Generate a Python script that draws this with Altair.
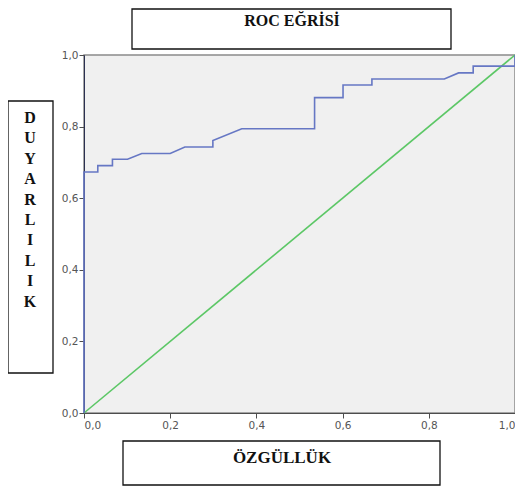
import altair as alt
import pandas as pd

# ROC curve (1 - specificity on x, sensitivity on y)
roc_x = [0.0, 0.0, 0.032, 0.032, 0.066, 0.066, 0.101, 0.134, 0.200, 0.234, 0.299, 0.299,
         0.366, 0.535, 0.535, 0.601, 0.601, 0.668, 0.668, 0.836, 0.869, 0.903, 0.903, 1.0, 1.0]
roc_y = [0.0, 0.673, 0.673, 0.691, 0.691, 0.709, 0.709, 0.725, 0.725, 0.743, 0.743, 0.761,
         0.794, 0.794, 0.881, 0.881, 0.916, 0.916, 0.933, 0.933, 0.950, 0.950, 0.969, 0.969, 1.0]
ref_x = [0.0, 1.0]
ref_y = [0.0, 1.0]
tick_values = [0.0, 0.2, 0.4, 0.6, 0.8, 1.0]

title_text = "ROC EĞRİSİ"
x_title = "ÖZGÜLLÜK"
y_title = "DUYARLILIK"

roc_df = pd.DataFrame({"x": roc_x, "y": roc_y, "o": list(range(len(roc_x)))})
ref_df = pd.DataFrame({"x": ref_x, "y": ref_y, "o": list(range(len(ref_x)))})

label_expr = "replace(datum.label, '.', ',')"
xscale = alt.Scale(domain=[0, 1], nice=False)
yscale = alt.Scale(domain=[0, 1], nice=False)
xaxis = alt.Axis(values=tick_values, format=".1f", labelExpr=label_expr, title=None, grid=False,
                 domainColor="#4d4d4d", tickColor="#4d4d4d", tickSize=5, labelColor="#555555",
                 labelFontSize=10.5, labelFont="DejaVu Sans", labelPadding=2)
yaxis = alt.Axis(values=tick_values, format=".1f", labelExpr=label_expr, title=None, grid=False,
                 domainColor="#2b3050", tickColor="#4d4d4d", tickSize=5, labelColor="#555555",
                 labelFontSize=10.5, labelFont="DejaVu Sans", labelPadding=1)

ref_line = alt.Chart(ref_df).mark_line(color="#5cc766", strokeWidth=1.6).encode(
    x=alt.X("x:Q", scale=xscale, axis=xaxis),
    y=alt.Y("y:Q", scale=yscale, axis=yaxis),
    order="o:Q",
)
roc_line = alt.Chart(roc_df).mark_line(color="#6677c4", strokeWidth=1.6, interpolate="linear").encode(
    x=alt.X("x:Q", scale=xscale),
    y=alt.Y("y:Q", scale=yscale),
    order="o:Q",
)

one = alt.Data(values=[{"a": 1}])

def box(x1, x2, y1, y2):
    return alt.Chart(one).mark_rect(fill="white", stroke="#111111", strokeWidth=1.3).encode(
        x=alt.value(x1), x2=alt.value(x2), y=alt.value(y1), y2=alt.value(y2)
    )

title_box = box(48, 367, -46, -6)
ylab_box = box(-76, -31, 46, 318)
xlab_box = box(39, 356, 386, 430)

title_txt = alt.Chart(one).mark_text(font="Liberation Serif", fontWeight="bold", fontSize=16,
                                     color="#111111", baseline="middle").encode(
    x=alt.value(208), y=alt.value(-34), text=alt.value(title_text))
xlab_txt = alt.Chart(one).mark_text(font="Liberation Serif", fontWeight="bold", fontSize=17,
                                    color="#111111", baseline="middle").encode(
    x=alt.value(198), y=alt.value(403), text=alt.value(x_title))
ylab_txt = alt.Chart(one).mark_text(font="Liberation Serif", fontWeight="bold", fontSize=16,
                                    color="#111111", baseline="middle", lineHeight=20.4).encode(
    x=alt.value(-54), y=alt.value(63), text=alt.value(list(y_title)))

chart = alt.layer(
    ref_line, roc_line, title_box, ylab_box, xlab_box, title_txt, xlab_txt, ylab_txt
).properties(
    width=431, height=358,
    autosize=alt.AutoSizeParams(type="none"),
    padding={"left": 76, "top": 47, "right": 0, "bottom": 73},
    background="white",
).configure_view(
    fill="#f0f0f0", stroke="#8a8a8a", strokeWidth=1.5
)

chart.save("out.html", embed_options={"renderer": "svg", "actions": False})
